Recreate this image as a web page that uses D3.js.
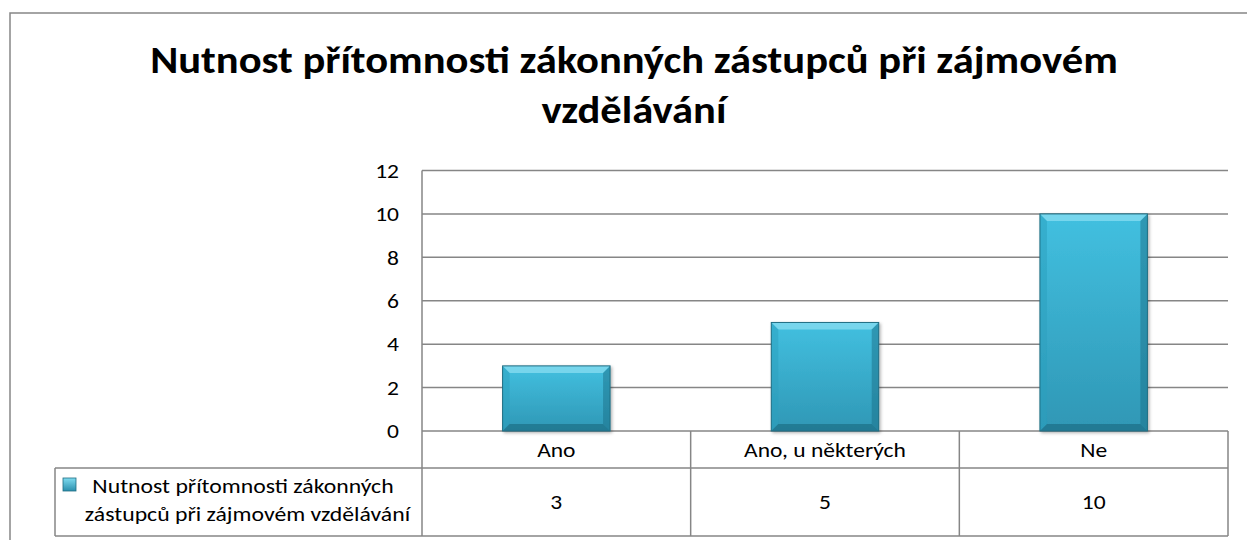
<!DOCTYPE html>
<html lang="cs">
<head>
    <meta charset="UTF-8">
    <title>Nutnost přítomnosti zákonných zástupců</title>
    <script src="https://cdn.jsdelivr.net/npm/d3@7/dist/d3.min.js"></script>
    <style>
        body { margin: 0; background: #fff; }
        text { font-family: Carlito, Calibri, Lato, "Open Sans", sans-serif; fill: #000; }
    </style>
</head>
<body>
<svg id="main-svg" width="1247" height="540" xmlns="http://www.w3.org/2000/svg"></svg>

<script>
    'use strict';
    // data
    const titleLines = ['Nutnost přítomnosti zákonných zástupců při zájmovém', 'vzdělávání'];
    const categories = ['Ano', 'Ano, u některých', 'Ne'];
    const values = [3, 5, 10];
    const yTicks = [0, 2, 4, 6, 8, 10, 12];
    const seriesLines = ['Nutnost přítomnosti zákonných', 'zástupců při zájmovém vzdělávání'];

    const svg = d3.select('#main-svg');
    const grid = '#868686';
    const smallFont = 21;

    // the original picture is a little wider than the font, so stretch text sideways
    function stretch(sel, k) {
        sel.each(function () {
            const len = this.getComputedTextLength();
            d3.select(this).attr('textLength', len * k).attr('lengthAdjust', 'spacingAndGlyphs');
        });
    }

    // outer chart frame (runs past the right and bottom of the picture)
    svg.append('rect')
        .attr('x', 10).attr('y', 13)
        .attr('width', 1260).attr('height', 560)
        .attr('fill', 'none').attr('stroke', grid).attr('stroke-width', 1.5);

    // title
    svg.append('g').selectAll('text')
        .data(titleLines)
        .join('text')
        .attr('x', 634)
        .attr('y', (d, i) => 73 + i * 50)
        .attr('text-anchor', 'middle')
        .attr('font-weight', 'bold')
        .attr('font-size', 38)
        .text(d => d)
        .call(stretch, 1.12);

    const plotL = 422, plotR = 1228, plotT = 170.5, plotB = 431;
    const x = d3.scaleBand().domain(categories).range([plotL, plotR])
        .paddingInner(0.6).paddingOuter(0.3);
    const y = d3.scaleLinear().domain([0, 12]).range([plotB, plotT]);

    // gridlines
    svg.append('g')
        .selectAll('line')
        .data(yTicks)
        .join('line')
        .attr('x1', plotL).attr('x2', plotR)
        .attr('y1', d => y(d)).attr('y2', d => y(d))
        .attr('stroke', grid).attr('stroke-width', 1.5);

    // y axis labels
    const yAxis = svg.append('g')
        .attr('transform', `translate(${plotL},0)`)
        .call(d3.axisLeft(y).tickValues(yTicks).tickSize(0).tickPadding(23));
    yAxis.select('.domain').remove();
    yAxis.selectAll('text').attr('font-size', smallFont).attr('fill', '#000')
        .style('font-family', 'Carlito, Calibri, Lato, "Open Sans", sans-serif')
        .call(stretch, 1.12);

    // bars with a bevel
    const defs = svg.append('defs');
    const grad = defs.append('linearGradient').attr('id', 'barFill')
        .attr('x1', 0).attr('y1', 0).attr('x2', 0).attr('y2', 1);
    grad.append('stop').attr('offset', '0%').attr('stop-color', '#42c0e0');
    grad.append('stop').attr('offset', '100%').attr('stop-color', '#2f97b5');
    const sh = defs.append('filter').attr('id', 'shadow')
        .attr('x', '-10%').attr('y', '-10%').attr('width', '130%').attr('height', '130%');
    sh.append('feDropShadow').attr('dx', 1.5).attr('dy', 1.5).attr('stdDeviation', 1.5)
        .attr('flood-color', '#000').attr('flood-opacity', 0.3);

    const bev = 7;
    const bars = svg.append('g')
        .selectAll('g')
        .data(values)
        .join('g')
        .attr('filter', 'url(#shadow)');
    bars.each(function (v, i) {
        const g = d3.select(this);
        const x0 = x(categories[i]), x1 = x0 + x.bandwidth();
        const y0 = y(v), y1 = y(0);
        g.append('rect').attr('x', x0).attr('y', y0)
            .attr('width', x1 - x0).attr('height', y1 - y0)
            .attr('fill', 'url(#barFill)');
        const faces = [
            {p: [[x0, y0], [x1, y0], [x1 - bev, y0 + bev], [x0 + bev, y0 + bev]], c: '#8ee0f2', o: 0.7},
            {p: [[x0, y0], [x0 + bev, y0 + bev], [x0 + bev, y1 - bev], [x0, y1]], c: '#2a9fbd', o: 0.5},
            {p: [[x1, y0], [x1, y1], [x1 - bev, y1 - bev], [x1 - bev, y0 + bev]], c: '#1c6f87', o: 0.5},
            {p: [[x0, y1], [x0 + bev, y1 - bev], [x1 - bev, y1 - bev], [x1, y1]], c: '#1a6379', o: 0.55}
        ];
        g.selectAll('polygon').data(faces).join('polygon')
            .attr('points', d => d.p.map(q => q.join(',')).join(' '))
            .attr('fill', d => d.c).attr('fill-opacity', d => d.o);
        g.append('rect').attr('x', x0).attr('y', y0)
            .attr('width', x1 - x0).attr('height', y1 - y0)
            .attr('fill', 'none').attr('stroke', '#1f6d82').attr('stroke-width', 1);
    });

    // data table
    const row1 = 468, row2 = 536, legLeft = 55;
    const table = svg.append('g').attr('stroke', grid).attr('stroke-width', 1.5).attr('fill', 'none');
    table.append('line').attr('x1', legLeft).attr('x2', plotR).attr('y1', row1).attr('y2', row1);
    table.append('line').attr('x1', legLeft).attr('x2', plotR).attr('y1', row2).attr('y2', row2);
    table.append('line').attr('x1', legLeft).attr('x2', legLeft).attr('y1', row1).attr('y2', row2);
    table.selectAll('.v')
        .data(d3.range(categories.length + 1))
        .join('line')
        .attr('class', 'v')
        .attr('x1', i => plotL + i * x.step()).attr('x2', i => plotL + i * x.step())
        .attr('y1', i => i === 0 ? plotT : plotB).attr('y2', row2);

    svg.append('g').selectAll('text')
        .data(categories)
        .join('text')
        .attr('x', d => x(d) + x.bandwidth() / 2)
        .attr('y', 457)
        .attr('text-anchor', 'middle')
        .attr('font-size', smallFont)
        .text(d => d)
        .call(stretch, 1.12);

    svg.append('g').selectAll('text')
        .data(values)
        .join('text')
        .attr('x', (d, i) => x(categories[i]) + x.bandwidth() / 2)
        .attr('y', 509)
        .attr('text-anchor', 'middle')
        .attr('font-size', smallFont)
        .text(d => d)
        .call(stretch, 1.12);

    // legend key + series name
    const keyG = defs.append('linearGradient').attr('id', 'keyFill')
        .attr('x1', 0).attr('y1', 0).attr('x2', 0).attr('y2', 1);
    keyG.append('stop').attr('offset', '0%').attr('stop-color', '#7fdcf0');
    keyG.append('stop').attr('offset', '100%').attr('stop-color', '#2a8fad');
    svg.append('rect')
        .attr('x', 63).attr('y', 478).attr('width', 13).attr('height', 13)
        .attr('fill', 'url(#keyFill)').attr('stroke', '#1f6d82').attr('stroke-width', 0.8);
    svg.append('g').selectAll('text')
        .data(seriesLines)
        .join('text')
        .attr('x', (d, i) => i === 0 ? 243 : 247.5)
        .attr('y', (d, i) => 493 + i * 28)
        .attr('text-anchor', 'middle')
        .attr('font-size', smallFont)
        .text(d => d)
        .call(stretch, 1.13);
</script>
</body>
</html>
